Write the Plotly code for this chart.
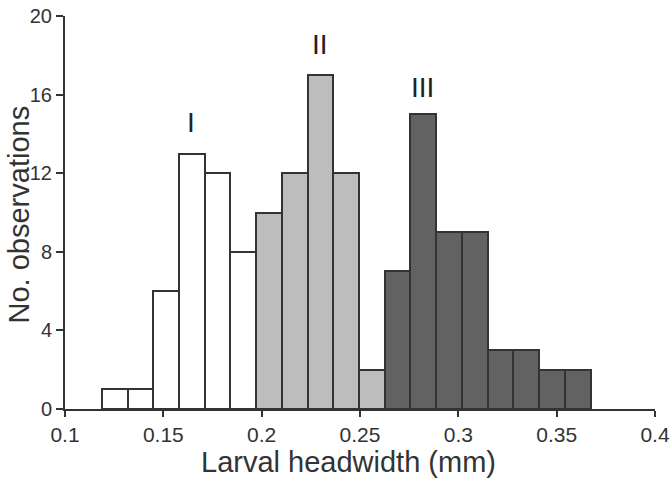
import plotly.graph_objects as go

# histogram bins (mm)
bin_start = 0.1187
bin_width = 0.01308

instar_names = ["I", "II", "III"]
counts_I = [1, 1, 6, 13, 12, 8]
counts_II = [10, 12, 17, 12, 2]
counts_III = [7, 15, 9, 9, 3, 3, 2, 2]

label_x = [0.1642, 0.2296, 0.282]
label_y = [14.6, 18.55, 16.35]

colors = ["#ffffff", "#bdbdbd", "#626262"]
edge = "#333333"

fig = go.Figure()
offset = 0
for counts, col in zip([counts_I, counts_II, counts_III], colors):
    xs = [bin_start + bin_width * (offset + i + 0.5) for i in range(len(counts))]
    fig.add_trace(go.Bar(x=xs, y=counts, width=bin_width,
                         marker=dict(color=col, line=dict(color=edge, width=2))))
    offset += len(counts)

for name, lx, ly in zip(instar_names, label_x, label_y):
    fig.add_annotation(x=lx, y=ly, text=name, showarrow=False,
                       font=dict(size=28, color="#222222"))

# axis titles as annotations so they can sit out in the margins
fig.add_annotation(xref="paper", yref="paper", x=0.4805, y=0, yshift=-53,
                   text="Larval headwidth (mm)", showarrow=False,
                   yanchor="middle", font=dict(size=29, color="#333333"))
fig.add_annotation(xref="paper", yref="paper", x=0, y=0.495, xshift=-46,
                   text="No. observations", showarrow=False, textangle=-90,
                   xanchor="center", font=dict(size=29, color="#333333"))

fig.update_layout(
    width=672, height=484,
    margin=dict(l=65, r=17, t=16, b=75),
    paper_bgcolor="white", plot_bgcolor="white",
    showlegend=False, bargap=0,
    font=dict(family="Liberation Sans, Arial, sans-serif", color="#333333", size=21),
)
fig.update_xaxes(
    range=[0.1, 0.4], tickvals=[0.1, 0.15, 0.2, 0.25, 0.3, 0.35, 0.4],
    ticktext=["0.1", "0.15", "0.2", "0.25", "0.3", "0.35", "0.4"],
    showline=True, linecolor=edge, linewidth=2, showgrid=False, zeroline=False,
    ticks="outside", ticklen=6, tickwidth=2, tickcolor=edge, automargin=False,
)
fig.update_yaxes(
    range=[0, 20], tickvals=[0, 4, 8, 12, 16, 20],
    showline=True, linecolor=edge, linewidth=2, showgrid=False, zeroline=False,
    ticks="outside", ticklen=7, tickwidth=2, tickcolor=edge, automargin=False,
    tickfont=dict(size=20),
)

# drop the browser's default 8px body margin so the figure fills the window
fig.write_html("out.html", config={"displayModeBar": False},
               post_script="document.body.style.margin = '0';")
